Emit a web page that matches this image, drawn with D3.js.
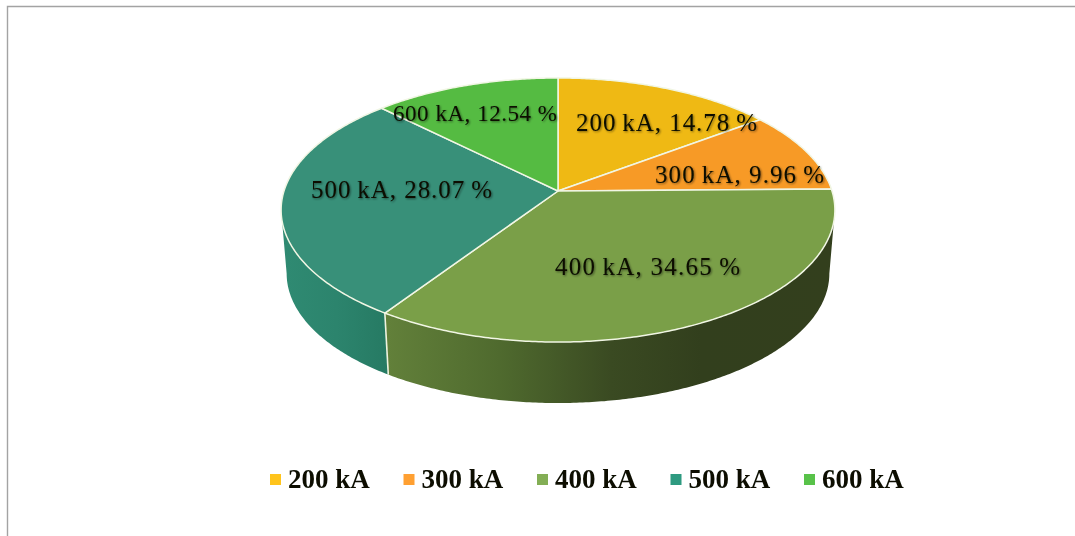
<!DOCTYPE html>
<html>
<head>
<meta charset="utf-8">
<script src="https://cdn.jsdelivr.net/npm/d3@7"></script>
<style>
html,body{margin:0;padding:0;background:#fff;overflow:hidden}
svg{display:block}
text{font-family:"Liberation Serif","Times New Roman",serif;fill:#0a0d06}
</style>
</head>
<body>
<svg id="chart" width="1075" height="536"></svg>
<script>
const categories = ["200 kA","300 kA","400 kA","500 kA","600 kA"];
const shares = [14.78,9.96,34.65,28.07,12.54];
const topColors = ["#EFB914","#F79A26","#7A9F48","#389079","#55BB42"];
const legendColors = ["#FFC41C","#FFA030","#83AE55","#2F9A80","#58C24A"];
const labelText = ["200\u2009kA, 14.78\u2009%","300\u2009kA, 9.96\u2009%","400\u2009kA, 34.65\u2009%","500\u2009kA, 28.07\u2009%","600 kA, 12.54 %"];

// layout (not data)
const labelBox = [[576,131,181,25],[655,183,169,25],[555,275,185,25],[311,198,181,25],[393,121,164,23]];
const legendX = d3.scaleLinear().domain([0,4]).range([270,804]);
const W=1075,H=536;
const svg=d3.select("#chart");
const defs=svg.append("defs");

const shadow=defs.append("filter").attr("id","soft").attr("x","-5%").attr("y","-20%").attr("width","110%").attr("height","140%");
shadow.append("feGaussianBlur").attr("in","SourceAlpha").attr("stdDeviation",1).attr("result","b");
shadow.append("feOffset").attr("in","b").attr("dx",0.8).attr("dy",0.8).attr("result","o");
shadow.append("feComponentTransfer").attr("in","o").attr("result","s").append("feFuncA").attr("type","linear").attr("slope",0.5);
shadow.append("feGaussianBlur").attr("in","SourceGraphic").attr("stdDeviation",0.3).attr("result","g");
const mrg=shadow.append("feMerge");
mrg.append("feMergeNode").attr("in","s");
mrg.append("feMergeNode").attr("in","g");
const slight=defs.append("filter").attr("id","slight");
slight.append("feGaussianBlur").attr("stdDeviation",0.4);

// frame
svg.append("path").attr("d",`M7.5,${H}V6.5H${W}`).attr("fill","none").attr("stroke","#a3a3a3").attr("stroke-width",1.4);

// perspective projection of the pie disc
const cx=558, cyTop=191, cyBottom=255, B=274, A=129.3, k=0.144, shrink=0.98;
const sx=d3.scaleLinear().domain([-1,1]).range([-B,B]);
const sy=d3.scaleLinear().domain([-1,1]).range([A,-A]);
function project(theta,r,cy,scale){
  const u=r*Math.sin(theta), v=r*Math.cos(theta), w=1+k*v;
  return [cx+scale*sx(u)/w, cy+scale*sy(v)/w];
}
const line=d3.line();
function arcPts(a,b,cy,scale){
  const n=Math.max(2,Math.ceil((b-a)/0.01));
  return d3.range(n+1).map(i=>project(a+(b-a)*i/n,1,cy,scale));
}
const slices=d3.pie().sort(null).value(d=>d)(shares);

// side wall, limited to the silhouette points of the disc
const tangent=Math.acos(-k);
const visFrom=tangent, visTo=2*Math.PI-tangent;
const sideStops={
  2:[[0,"#62803a"],[0.25,"#4f6a2e"],[0.5,"#3a4a22"],[0.7,"#323f1d"],[1,"#333f1d"]],
  3:[[0,"#2f8a72"],[0.5,"#2c846d"],[1,"#267a63"]]
};
const sideRange={2:[388,835],3:[285,388]};
[2,3].forEach(i=>{
  const g=defs.append("linearGradient").attr("id","side"+i).attr("gradientUnits","userSpaceOnUse")
    .attr("x1",sideRange[i][0]).attr("x2",sideRange[i][1]).attr("y1",0).attr("y2",0);
  sideStops[i].forEach(s=>g.append("stop").attr("offset",s[0]).attr("stop-color",s[1]));
});
const sideG=svg.append("g");
slices.forEach((s,i)=>{
  if(!sideStops[i]) return;
  const a=Math.max(s.startAngle,visFrom), b=Math.min(s.endAngle,visTo);
  if(b<=a) return;
  const pts=arcPts(a,b,cyTop,1).concat(arcPts(a,b,cyBottom,shrink).reverse());
  sideG.append("path").attr("d",line(pts)+"Z").attr("fill",`url(#side${i})`);
});
// light seam between the 400 kA and 500 kA walls
const seam=slices[2].endAngle;
sideG.append("path").attr("d",line([project(seam,1,cyTop,1),project(seam,1,cyBottom,shrink)]))
  .attr("stroke","#eef3e0").attr("stroke-width",1.6).attr("fill","none");

// top disc
const topG=svg.append("g");
slices.forEach((s,i)=>{
  const pts=[[cx,cyTop]].concat(arcPts(s.startAngle,s.endAngle,cyTop,1));
  topG.append("path").attr("d",line(pts)+"Z").attr("fill",topColors[i])
    .attr("stroke","#f1f6e4").attr("stroke-width",1.5).attr("stroke-linejoin","round");
});

// labels
svg.append("g").selectAll("text").data(labelText).join("text")
  .attr("x",(d,i)=>labelBox[i][0]).attr("y",(d,i)=>labelBox[i][1])
  .attr("font-size",(d,i)=>labelBox[i][3])
  .attr("textLength",(d,i)=>labelBox[i][2]).attr("lengthAdjust","spacing")
  .attr("filter","url(#soft)")
  .text(d=>d);

// legend
const leg=svg.append("g").attr("filter","url(#slight)");
categories.forEach((c,i)=>{
  leg.append("rect").attr("x",legendX(i)).attr("y",474).attr("width",11).attr("height",11).attr("fill",legendColors[i]);
  leg.append("text").attr("x",legendX(i)+18).attr("y",488).attr("font-size",27).attr("font-weight","bold")
    .attr("fill","#111").text(c);
});
</script>
</body>
</html>
